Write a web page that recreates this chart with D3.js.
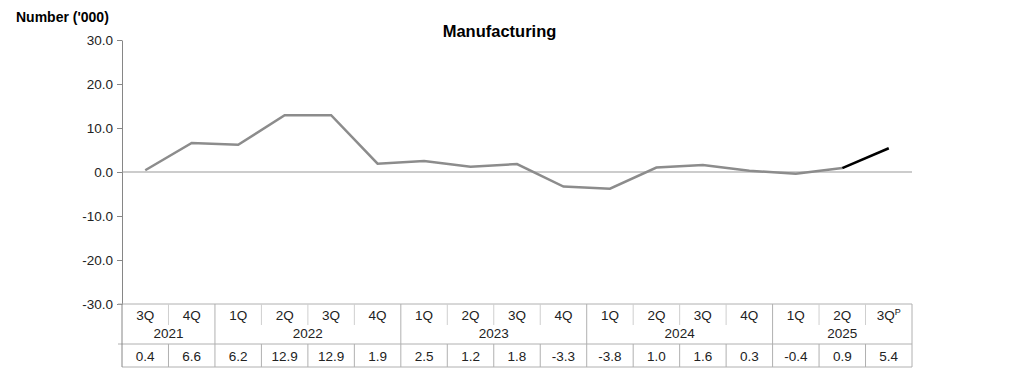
<!DOCTYPE html>
<html>
<head>
<meta charset="utf-8">
<script src="https://cdn.jsdelivr.net/npm/d3@7"></script>
<style>
  body { margin: 0; background: #fff; }
  svg { display: block; font-family: "Liberation Sans", Arial, sans-serif; }
  .axis path, .axis line { stroke: #868686; }
  .axis text { font-size: 13.5px; fill: #222; }
</style>
</head>
<body>
<svg id="chart"></svg>
<script>
// Data
const quarters = ['3Q', '4Q', '1Q', '2Q', '3Q', '4Q', '1Q', '2Q', '3Q', '4Q', '1Q', '2Q', '3Q', '4Q', '1Q', '2Q', '3Q'];
const years = ['2021', '2021', '2022', '2022', '2022', '2022', '2023', '2023', '2023', '2023', '2024', '2024', '2024', '2024', '2025', '2025', '2025'];
const values = [0.4, 6.6, 6.2, 12.9, 12.9, 1.9, 2.5, 1.2, 1.8, -3.3, -3.8, 1.0, 1.6, 0.3, -0.4, 0.9, 5.4];
const provisional = [false, false, false, false, false, false, false, false, false, false, false, false, false, false, false, false, true];
const yTicks = [-30, -20, -10, 0, 10, 20, 30];

const width = 1022, height = 390;
const margin = {top: 40, right: 110, bottom: 86, left: 122};

// plain hyphen for negatives, like the source chart
const fmt = d => d3.format('.1f')(d).replace('\u2212', '-');

const svg = d3.select('#chart')
    .attr('width', width)
    .attr('height', height);

const ids = values.map((d, i) => i);

const xScale = d3.scaleBand()
    .domain(ids)
    .range([margin.left, width - margin.right])
    .padding(0);

const yScale = d3.scaleLinear()
    .domain([-30, 30])
    .range([height - margin.bottom, margin.top]);

const cx = i => xScale(i) + xScale.bandwidth() / 2;

// Title and axis title
svg.append('text')
    .attr('x', 499.5)
    .attr('y', 37)
    .attr('text-anchor', 'middle')
    .style('font-size', '16.5px')
    .style('font-weight', 'bold')
    .text('Manufacturing');

svg.append('text')
    .attr('x', 16)
    .attr('y', 22)
    .style('font-size', '14px')
    .style('font-weight', 'bold')
    .text("Number ('000)");

// Y axis
const yAxis = d3.axisLeft(yScale)
    .tickValues(yTicks)
    .tickFormat(fmt)
    .tickSize(5)
    .tickSizeOuter(0)
    .tickPadding(4);

svg.append('g')
    .attr('class', 'axis y-axis')
    .attr('transform', `translate(${margin.left},0)`)
    .call(yAxis);

// Zero line
svg.append('line')
    .attr('x1', margin.left)
    .attr('x2', width - margin.right)
    .attr('y1', yScale(0))
    .attr('y2', yScale(0))
    .attr('stroke', '#999')
    .attr('stroke-width', 1);

// Data table under the plot
const tableTop = yScale(-30);
const yearLineY = tableTop + 40;
const tableBottom = yearLineY + 23;
const gridColor = '#b0b0b0';
const table = svg.append('g').attr('class', 'table');
const x0 = margin.left, x1 = width - margin.right;

// horizontal rules
[tableTop, yearLineY, tableBottom].forEach(y => {
    table.append('line')
        .attr('x1', y === tableBottom ? x0 : x0 - 4).attr('x2', x1)
        .attr('y1', y).attr('y2', y)
        .attr('stroke', gridColor);
});
// left border down the table
table.append('line')
    .attr('x1', x0).attr('x2', x0)
    .attr('y1', tableTop).attr('y2', tableBottom)
    .attr('stroke', '#868686');
// right border
table.append('line')
    .attr('x1', x1).attr('x2', x1)
    .attr('y1', tableTop).attr('y2', tableBottom)
    .attr('stroke', gridColor);

// separators between categories
ids.slice(1).forEach(i => {
    const x = xScale(i);
    const yearBreak = years[i] !== years[i - 1];
    table.append('line')
        .attr('x1', x).attr('x2', x)
        .attr('y1', tableTop)
        .attr('y2', yearBreak ? tableBottom : tableTop + 21)
        .attr('stroke', yearBreak ? gridColor : '#cfcfcf');
    if (!yearBreak) {
        table.append('line')
            .attr('x1', x).attr('x2', x)
            .attr('y1', yearLineY).attr('y2', tableBottom)
            .attr('stroke', gridColor);
    }
});

// quarter labels
table.selectAll('.q')
    .data(ids)
    .join('text')
    .attr('class', 'q')
    .attr('x', cx)
    .attr('y', tableTop + 16)
    .attr('text-anchor', 'middle')
    .style('font-size', '13.5px')
    .style('fill', '#222')
    .each(function(i) {
        const t = d3.select(this);
        t.append('tspan').text(quarters[i]);
        if (provisional[i]) {
            t.append('tspan')
                .attr('dy', -5)
                .style('font-size', '9px')
                .text('P');
        }
    });

// year labels centred on their span
const yearGroups = d3.groups(ids, i => years[i]);
table.selectAll('.yr')
    .data(yearGroups)
    .join('text')
    .attr('class', 'yr')
    .attr('x', d => (xScale(d[1][0]) + xScale(d[1][d[1].length - 1]) + xScale.bandwidth()) / 2)
    .attr('y', tableTop + 34)
    .attr('text-anchor', 'middle')
    .style('font-size', '13.5px')
    .style('fill', '#222')
    .text(d => d[0]);

// value labels
table.selectAll('.v')
    .data(ids)
    .join('text')
    .attr('class', 'v')
    .attr('x', cx)
    .attr('y', yearLineY + 17)
    .attr('text-anchor', 'middle')
    .style('font-size', '13.5px')
    .style('fill', '#222')
    .text(i => fmt(values[i]));

// Line
const line = d3.line()
    .x(i => cx(i))
    .y(i => yScale(values[i]));

const firstProv = provisional.indexOf(true);
const mainIds = ids.slice(0, firstProv);
const provIds = ids.slice(firstProv - 1);

svg.append('path')
    .datum(mainIds)
    .attr('fill', 'none')
    .attr('stroke', '#8c8c8c')
    .attr('stroke-width', 2.5)
    .attr('d', line);

svg.append('path')
    .datum(provIds)
    .attr('fill', 'none')
    .attr('stroke', '#000')
    .attr('stroke-width', 2.5)
    .attr('d', line);
</script>
</body>
</html>
